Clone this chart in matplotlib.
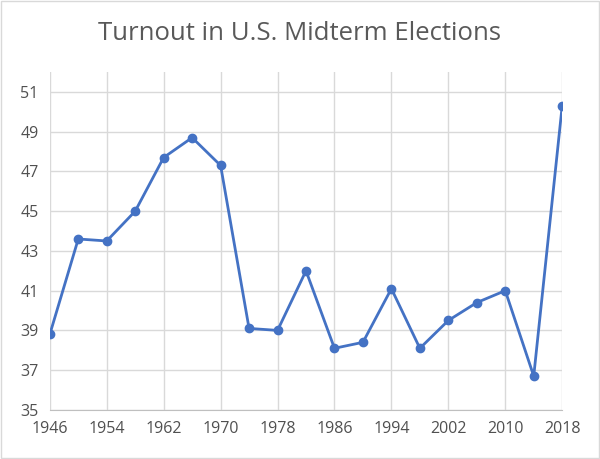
import matplotlib.pyplot as plt
from matplotlib.patches import Rectangle

years = list(range(1946, 2019, 4))
turnout = [38.8, 43.6, 43.5, 45.0, 47.7, 48.7, 47.3, 39.1, 39.0, 42.0,
           38.1, 38.4, 41.1, 38.1, 39.5, 40.4, 41.0, 36.7, 50.3]
x_ticks = list(range(1946, 2019, 8))
y_ticks = list(range(35, 52, 2))

plt.rcParams['font.family'] = ['Open Sans', 'DejaVu Sans']

fig = plt.figure(figsize=(6, 4.59), dpi=100)
ax = fig.add_axes([0.083, 0.107, 0.854, 0.736])

ax.plot(years, turnout, color="#4472C4", linewidth=2, marker="o",
        markersize=6, zorder=3)

ax.set_xlim(1946, 2018)
ax.set_ylim(35, 52)
ax.set_xticks(x_ticks)
ax.set_yticks(y_ticks)
ax.grid(True, color="#d9d9d9", linewidth=1)
ax.set_axisbelow(True)
for side in ["top", "right", "left"]:
    ax.spines[side].set_visible(False)
ax.spines["bottom"].set_color("#bfbfbf")
ax.tick_params(length=0, labelsize=11.5, colors="#505050", pad=8)

fig.suptitle("Turnout in U.S. Midterm Elections", y=0.955, fontsize=18.5,
             color="#595959")

fig.patches.append(Rectangle((0.002, 0.002), 0.996, 0.996,
                             transform=fig.transFigure, fill=False,
                             edgecolor="#d9d9d9", linewidth=1))

fig.savefig("out.png", dpi=100)
